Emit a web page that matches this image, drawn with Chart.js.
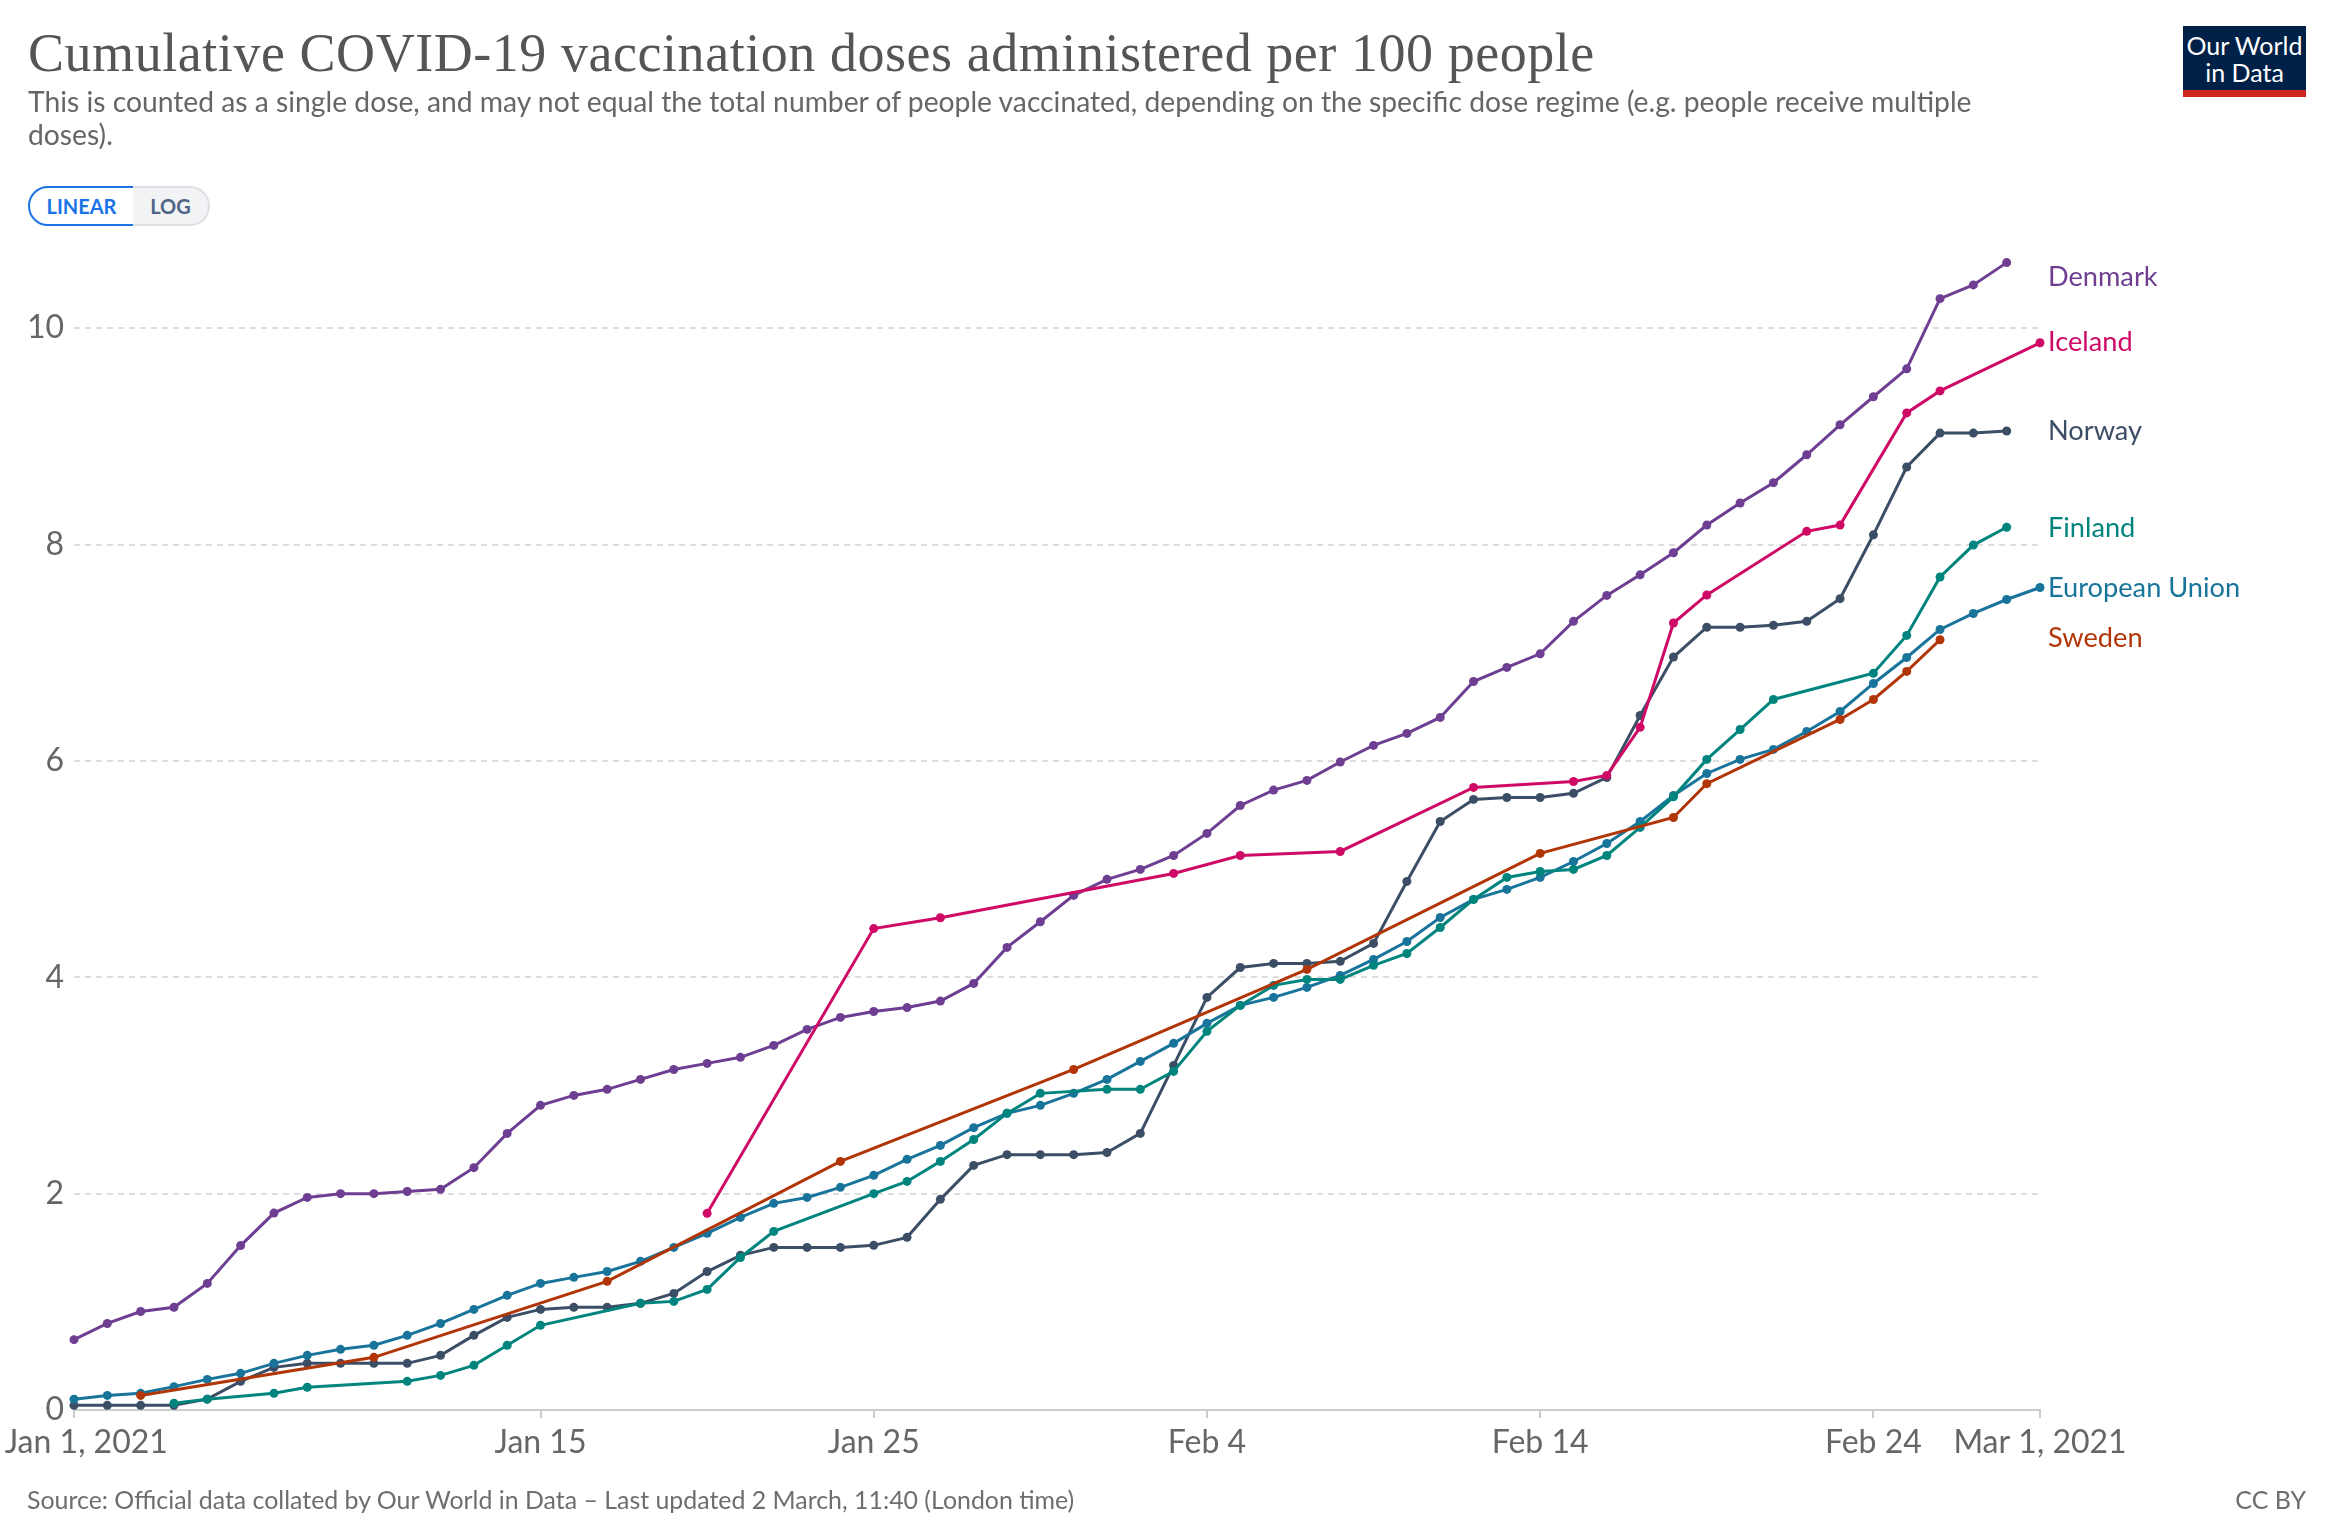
<!DOCTYPE html>
<html>
<head>
<meta charset="utf-8">
<title>Cumulative COVID-19 vaccination doses</title>
<script src="https://cdn.jsdelivr.net/npm/chart.js@4"></script>
<style>
  html, body { margin: 0; padding: 0; background: #fff; }
  body { position: relative; width: 2330px; height: 1526px; overflow: hidden; font-family: Lato, sans-serif; }
  canvas { position: absolute; left: 0; top: 0; }
  .abs { position: absolute; white-space: nowrap; }
  #title { left: 28px; top: 18px; font: 54px/70px "Liberation Serif", serif; color: #555; letter-spacing: 0.55px; }
  #subtitle { left: 28px; top: 85px; width: 1980px; font-size: 28.26px; line-height: 33px; color: #666; white-space: normal; }
  #linear, #log { top: 186px; height: 36px; line-height: 36px; font-size: 20px; font-weight: 700; text-align: center; }
  #linear { left: 28px; width: 103px; border: 2px solid #1a73e8; border-radius: 20px 0 0 20px; color: #1a73e8; background: #fff; }
  #log { left: 133px; width: 75px; border: 2px solid #dcdfe4; border-left: 0; border-radius: 0 20px 20px 0; color: #4e6585; background: #f2f3f5; }
  #logo { left: 2183px; top: 26px; width: 123px; background: #002147; border-bottom: 7px solid #ce261e; color: #fff; font-size: 25px; line-height: 27px; text-align: center; padding-top: 6px; height: 58px; }
  .end { left: 2048px; font-size: 27.2px; line-height: 32px; }
  #source { left: 27px; top: 1484px; font-size: 24.9px; color: #6e6e6e; }
  #ccby { right: 24px; top: 1484px; font-size: 25px; color: #6e6e6e; }
</style>
</head>
<body>
<canvas id="chart" width="2330" height="1526"></canvas>
<div class="abs" id="title">Cumulative COVID-19 vaccination doses administered per 100 people</div>
<div class="abs" id="subtitle">This is counted as a single dose, and may not equal the total number of people vaccinated, depending on the specific dose regime (e.g. people receive multiple doses).</div>
<div class="abs" id="linear">LINEAR</div>
<div class="abs" id="log">LOG</div>
<div class="abs" id="logo">Our World<br>in Data</div>
<div class="abs end" style="top:260px;color:#6D3E91">Denmark</div>
<div class="abs end" style="top:325px;color:#CF0A66">Iceland</div>
<div class="abs end" style="top:414px;color:#3C4E66">Norway</div>
<div class="abs end" style="top:511px;color:#00847E">Finland</div>
<div class="abs end" style="top:571px;color:#18749B">European Union</div>
<div class="abs end" style="top:621px;color:#B13507">Sweden</div>
<div class="abs" id="source">Source: Official data collated by Our World in Data – Last updated 2 March, 11:40 (London time)</div>
<div class="abs" id="ccby">CC BY</div>
<script>
// days are counted from Jan 1, 2021
const xTicks = [0, 14, 24, 34, 44, 54, 59];
const xTickLabels = ['   Jan 1, 2021', 'Jan 15', 'Jan 25', 'Feb 4', 'Feb 14', 'Feb 24', 'Mar 1, 2021'];
const yTicks = [0, 2, 4, 6, 8, 10];

const denmarkValues = [0.65, 0.80, 0.91, 0.95, 1.17, 1.52, 1.82, 1.965, 2.0, 2.0, 2.02, 2.04, 2.24, 2.557, 2.816,
  2.908, 2.964, 3.056, 3.148, 3.204, 3.26, 3.37, 3.518, 3.629, 3.684, 3.72, 3.78, 3.943, 4.276, 4.513,
  4.757, 4.905, 4.997, 5.126, 5.33, 5.588, 5.73, 5.82, 5.99, 6.143, 6.254, 6.402, 6.734, 6.864, 6.99,
  7.29, 7.53, 7.72, 7.924, 8.18, 8.384, 8.572, 8.83, 9.107, 9.366, 9.624, 10.273, 10.40, 10.606];

const icelandDays = [19, 24, 26, 33, 35, 38, 42, 45, 46, 47, 48, 49, 52, 53, 55, 56, 59];
const icelandValues = [1.818, 4.45, 4.55, 4.96, 5.126, 5.163, 5.755, 5.81, 5.866, 6.31, 7.275, 7.534, 8.122, 8.18, 9.217, 9.42, 9.865];

const norwayValues = [0.043, 0.043, 0.043, 0.043, 0.10, 0.265, 0.394, 0.431, 0.431, 0.431, 0.431, 0.505, 0.69, 0.856, 0.93,
  0.949, 0.949, 0.986, 1.078, 1.28, 1.43, 1.503, 1.503, 1.503, 1.522, 1.596, 1.947, 2.261, 2.36, 2.36,
  2.36, 2.38, 2.557, 3.185, 3.814, 4.09, 4.128, 4.128, 4.147, 4.313, 4.886, 5.44, 5.644, 5.662, 5.662,
  5.70, 5.847, 6.42, 6.96, 7.236, 7.236, 7.254, 7.29, 7.5, 8.09, 8.717, 9.03, 9.03, 9.05];

const finlandDays = [3, 4, 6, 7, 10, 11, 12, 13, 14, 17, 18, 19, 20, 21, 24, 25, 26, 27, 28, 29, 31, 32, 33, 34, 35, 36, 37,
  38, 39, 40, 41, 42, 43, 44, 45, 46, 47, 48, 49, 50, 51, 54, 55, 56, 57, 58];
const finlandValues = [0.062, 0.10, 0.154, 0.21, 0.265, 0.32, 0.413, 0.598, 0.783, 0.986, 1.004, 1.115, 1.41, 1.651, 2.0, 2.113, 2.298,
  2.50, 2.742, 2.927, 2.964, 2.964, 3.13, 3.5, 3.74, 3.925, 3.98, 3.98, 4.11, 4.22, 4.46, 4.72, 4.923, 4.978, 4.997,
  5.126, 5.385, 5.668, 6.014, 6.29, 6.568, 6.81, 7.16, 7.70, 7.995, 8.16];

const euValues = [0.10, 0.135, 0.154, 0.216, 0.283, 0.339, 0.431, 0.505, 0.561, 0.598, 0.69, 0.80, 0.93, 1.06, 1.17,
  1.226, 1.28, 1.374, 1.503, 1.633, 1.78, 1.91, 1.965, 2.058, 2.169, 2.317, 2.446, 2.61, 2.742, 2.816,
  2.927, 3.056, 3.222, 3.389, 3.574, 3.74, 3.814, 3.906, 4.017, 4.165, 4.331, 4.553, 4.72, 4.812, 4.923,
  5.07, 5.237, 5.44, 5.68, 5.884, 6.014, 6.106, 6.272, 6.457, 6.716, 6.956, 7.215, 7.363, 7.492, 7.603];

const swedenDays = [2, 9, 16, 23, 30, 37, 44, 48, 49, 53, 54, 55, 56];
const swedenValues = [0.135, 0.487, 1.189, 2.298, 3.148, 4.073, 5.145, 5.477, 5.79, 6.383, 6.568, 6.827, 7.12];

function toPoints(days, values) {
  return values.map(function (v, i) { return { x: days ? days[i] : i, y: v }; });
}

function lineSet(label, color, days, values) {
  return {
    label: label,
    data: toPoints(days, values),
    borderColor: color,
    backgroundColor: color,
    borderWidth: 3,
    pointRadius: 4.5,
    pointBorderWidth: 0,
    tension: 0,
    clip: false
  };
}

new Chart(document.getElementById('chart'), {
  type: 'line',
  data: {
    // first dataset ends up on top
    datasets: [
      lineSet('Iceland', '#CF0A66', icelandDays, icelandValues),
      lineSet('Sweden', '#B13507', swedenDays, swedenValues),
      lineSet('Finland', '#00847E', finlandDays, finlandValues),
      lineSet('European Union', '#18749B', null, euValues),
      lineSet('Norway', '#3C4E66', null, norwayValues),
      lineSet('Denmark', '#6D3E91', null, denmarkValues)
    ]
  },
  options: {
    responsive: false,
    animation: false,
    layout: { padding: { left: 0, right: 290, top: 220, bottom: 56 } },
    plugins: { legend: { display: false }, tooltip: { enabled: false } },
    scales: {
      x: {
        type: 'linear',
        min: 0,
        max: 59,
        afterBuildTicks: function (scale) { scale.ticks = xTicks.map(function (v) { return { value: v }; }); },
        afterFit: function (scale) { scale.height = 60; scale.paddingLeft = 0; scale.paddingRight = 0; },
        border: { color: '#ccc', width: 2 },
        grid: { drawOnChartArea: false, color: '#ccc', tickLength: 8, lineWidth: 2 },
        ticks: {
          autoSkip: false,
          maxRotation: 0,
          padding: 5,
          color: '#666',
          font: { family: 'Lato', size: 32 },
          callback: function (v) { return xTickLabels[xTicks.indexOf(v)]; }
        }
      },
      y: {
        min: 0,
        max: 11,
        afterBuildTicks: function (scale) { scale.ticks = yTicks.map(function (v) { return { value: v }; }); },
        afterFit: function (scale) { scale.width = 74; scale.paddingTop = 0; scale.paddingBottom = 0; },
        border: {
          display: false,
          dash: [6, 5]
        },
        grid: {
          drawTicks: false,
          lineWidth: 2,
          color: function (ctx) { return ctx.tick.value === 0 ? 'rgba(0,0,0,0)' : '#ddd'; }
        },
        ticks: {
          padding: 10,
          color: '#666',
          font: { family: 'Lato', size: 32 }
        }
      }
    }
  }
});
</script>
</body>
</html>
